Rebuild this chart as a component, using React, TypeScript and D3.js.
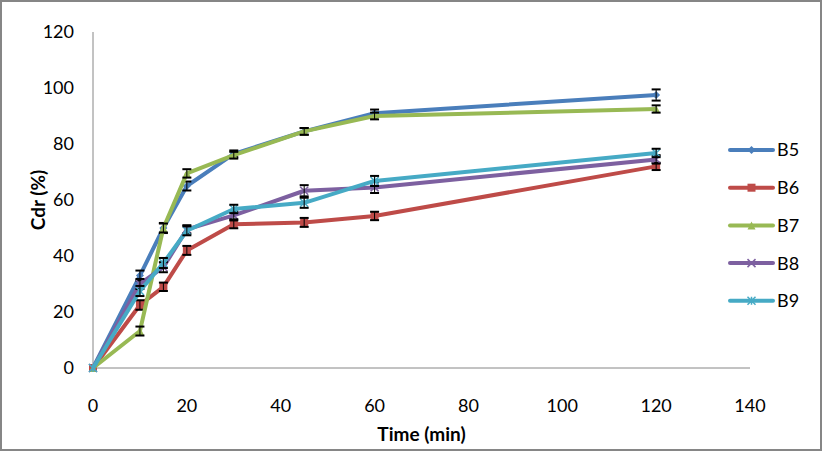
import * as React from "react";
import * as d3 from "d3";

const times = [0, 10, 15, 20, 30, 45, 60, 120];
const seriesNames = ["B5", "B6", "B7", "B8", "B9"];
const b5 = [0, 33, 50, 65, 76.5, 84.5, 91, 97.5];
const b6 = [0, 22.5, 29, 42, 51.3, 52, 54.3, 72];
const b7 = [0, 13.2, 50, 69.5, 76, 84.5, 90, 92.5];
const b8 = [0, 30, 36, 49.5, 54.5, 63.3, 64.5, 74.5];
const b9 = [0, 27.5, 37.5, 49, 56.8, 59, 66.8, 76.8];
const b5Err = [0, 1.8, 1.8, 1.6, 1.2, 1.2, 1.3, 2];
const b6Err = [0, 1.7, 1.5, 1.6, 1.4, 1.6, 1.5, 1.3];
const b7Err = [0, 1.6, 1.6, 1.5, 1.2, 1.2, 1.2, 1.3];
const b8Err = [0, 1.8, 1.8, 1.5, 1.4, 2, 2, 1.5];
const b9Err = [0, 1.8, 1.8, 1.6, 1.5, 1.8, 1.8, 1.5];
const xTicks = [0, 20, 40, 60, 80, 100, 120, 140];
const yTicks = [0, 20, 40, 60, 80, 100, 120];

const colors = ["#4A7EBB", "#BE4B48", "#98B954", "#7D60A0", "#46AAC5"];
const markers = ["diamond", "square", "triangle", "cross", "star"];
const font = "Lato, 'Open Sans', sans-serif";

const W = 822;
const H = 451;

const Marker = ({ kind, color, x, y }: { kind: string; color: string; x: number; y: number }) => {
  const s = 4;
  if (kind === "diamond")
    return <path d={`M${x},${y - s}L${x + s},${y}L${x},${y + s}L${x - s},${y}Z`} fill={color} />;
  if (kind === "square") return <rect x={x - s} y={y - s} width={2 * s} height={2 * s} fill={color} />;
  if (kind === "triangle")
    return <path d={`M${x},${y - s}L${x + s},${y + s}L${x - s},${y + s}Z`} fill={color} />;
  if (kind === "cross")
    return (
      <path d={`M${x - s},${y - s}L${x + s},${y + s}M${x - s},${y + s}L${x + s},${y - s}`} stroke={color} strokeWidth={1.5} />
    );
  return (
    <path
      d={`M${x - s},${y - s}L${x + s},${y + s}M${x - s},${y + s}L${x + s},${y - s}M${x},${y - s}L${x},${y + s}`}
      stroke={color}
      strokeWidth={1.5}
    />
  );
};

export default function App() {
  const x = d3.scaleLinear().domain([0, 140]).range([93, 750]);
  const y = d3.scaleLinear().domain([0, 120]).range([368, 32]);
  const values = [b5, b6, b7, b8, b9];
  const errors = [b5Err, b6Err, b7Err, b8Err, b9Err];
  const line = d3
    .line<number>()
    .x((_, i) => x(times[i]))
    .y(d => y(d));

  return (
    <div style={{ position: "absolute", left: 0, top: 0 }}>
      <svg width={W} height={H} style={{ display: "block", fontFamily: font }}>
        <rect x={0} y={0} width={W} height={H} fill="#fff" />
        <rect x={1} y={1} width={W - 2} height={H - 2} fill="none" stroke="#868686" strokeWidth={2} />

        <line x1={x(0)} x2={x(0)} y1={y(120)} y2={y(0)} stroke="#868686" />
        <line x1={x(0)} x2={x(140)} y1={y(0)} y2={y(0)} stroke="#868686" />

        {yTicks.map(t => (
          <text key={t} x={74} y={y(t)} dy="0.36em" textAnchor="end" fontSize={18} fill="#000">
            {t}
          </text>
        ))}
        {xTicks.map(t => (
          <text key={t} x={x(t)} y={412} textAnchor="middle" fontSize={18} fill="#000">
            {t}
          </text>
        ))}
        <text x={x(70)} y={441} textAnchor="middle" fontSize={19} fontWeight="bold">
          Time (min)
        </text>
        <text
          transform={`translate(45,${y(60)}) rotate(-90)`}
          textAnchor="middle"
          fontSize={19}
          fontWeight="bold"
        >
          Cdr (%)
        </text>

        {values.map((vals, si) => (
          <g key={seriesNames[si]}>
            <path d={line(vals) || ""} fill="none" stroke={colors[si]} strokeWidth={4} strokeLinejoin="round" />
            {vals.map((v, i) => (
              <Marker key={i} kind={markers[si]} color={colors[si]} x={x(times[i])} y={y(v)} />
            ))}
            {vals.map((v, i) =>
              errors[si][i] > 0 ? (
                <g key={"e" + i} stroke="#000">
                  <line x1={x(times[i])} x2={x(times[i])} y1={y(v + errors[si][i])} y2={y(v - errors[si][i])} strokeWidth={1} />
                  <line x1={x(times[i]) - 4.5} x2={x(times[i]) + 4.5} y1={y(v + errors[si][i])} y2={y(v + errors[si][i])} strokeWidth={2} />
                  <line x1={x(times[i]) - 4.5} x2={x(times[i]) + 4.5} y1={y(v - errors[si][i])} y2={y(v - errors[si][i])} strokeWidth={2} />
                </g>
              ) : null
            )}
          </g>
        ))}

        {seriesNames.map((n, si) => {
          const ly = 150 + si * 37.7;
          return (
            <g key={n}>
              <line x1={730} x2={773} y1={ly} y2={ly} stroke={colors[si]} strokeWidth={4} strokeLinecap="round" />
              <Marker kind={markers[si]} color={colors[si]} x={751.5} y={ly} />
              <text x={777} y={ly} dy="0.36em" fontSize={18}>
                {n}
              </text>
            </g>
          );
        })}
      </svg>
    </div>
  );
}
